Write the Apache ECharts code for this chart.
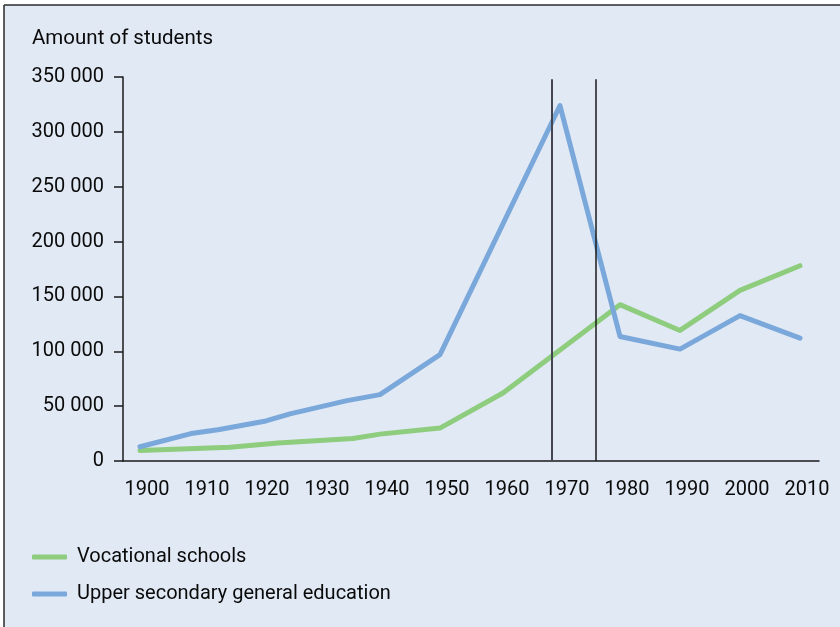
<!DOCTYPE html>
<html>
<head>
<meta charset="utf-8">
<script src="https://cdn.jsdelivr.net/npm/echarts@6/dist/echarts.min.js"></script>
<style>
html,body{margin:0;padding:0;background:#ffffff;}
#chart{width:840px;height:627px;}
</style>
</head>
<body>
<div id="chart"></div>
<script>
// Data
var yTickLabels = ['0', '50 000', '100 000', '150 000', '200 000', '250 000', '300 000', '350 000'];
var xTickYears = [1900, 1910, 1920, 1930, 1940, 1950, 1960, 1970, 1980, 1990, 2000, 2010];
var vocYears = [1900, 1915, 1923, 1935.5, 1940, 1950, 1960.5, 1980, 1990, 2000, 2010];
var vocValues = [9500, 12500, 16500, 20500, 24500, 30000, 62000, 142500, 119000, 155500, 178000];
var upperYears = [1900, 1908.5, 1913, 1921, 1925, 1934.5, 1940, 1950, 1970, 1980, 1990, 2000, 2010];
var upperValues = [13000, 25000, 28500, 36500, 43000, 55000, 60500, 97000, 324000, 113500, 102000, 132500, 112000];
var markerYears = [1968.6, 1976];
var seriesNames = ['Vocational schools', 'Upper secondary general education'];

function pairs(xs, ys) { return xs.map(function (x, i) { return [x, ys[i]]; }); }

var FONT = 'Roboto';
var TXT = '#0a0a0a';
var chart = echarts.init(document.getElementById('chart'), null, {renderer: 'canvas'});
var option = {
  backgroundColor: '#ffffff',
  animation: false,
  graphic: [
    {type: 'rect', z: -10, shape: {x: 4, y: 5, width: 840, height: 630}, style: {fill: '#e1e9f5'}},
    {type: 'line', z: 10, shape: {x1: 4, y1: 5, x2: 840, y2: 5}, style: {stroke: '#2a2a2a', lineWidth: 1.5}},
    {type: 'line', z: 10, shape: {x1: 4, y1: 5, x2: 4, y2: 627}, style: {stroke: '#2a2a2a', lineWidth: 1.5}},
    {type: 'text', z: 10, style: {x: 32, y: 39, text: 'Amount of students', fontFamily: FONT, fontSize: 20.5, fill: TXT, verticalAlign: 'middle'}}
  ],
  grid: {left: 123, right: 21, top: 77, bottom: 166, containLabel: false},
  xAxis: {
    type: 'value', min: 1897.17, max: 2013.17,
    splitLine: {show: false},
    axisLine: {show: true, onZero: false, lineStyle: {color: '#1a1a1a', width: 1.5}},
    axisTick: {show: false},
    axisLabel: {
      customValues: xTickYears, fontFamily: FONT, fontSize: 20, color: TXT, margin: 19,
      padding: [0, 0, 0, 14],
      formatter: function (v) { return String(Math.round(v)); }
    }
  },
  yAxis: {
    type: 'value', min: 0, max: 350000, interval: 50000,
    splitLine: {show: false},
    axisLine: {show: true, lineStyle: {color: '#1a1a1a', width: 1.5}},
    axisTick: {show: true, inside: false, length: 9, lineStyle: {color: '#1a1a1a', width: 1.5}},
    axisLabel: {
      fontFamily: FONT, fontSize: 20, color: TXT, margin: 19,
      formatter: function (v) { return yTickLabels[Math.round(v / 50000)]; }
    }
  },
  legend: {
    orient: 'vertical', left: 32, top: 545, padding: 0,
    itemWidth: 35, itemHeight: 5, itemGap: 13,
    icon: 'roundRect',
    textStyle: {fontFamily: FONT, fontSize: 20, color: TXT, lineHeight: 24, padding: [0, 0, 0, 5]},
    data: seriesNames
  },
  series: [
    {
      name: 'markers', type: 'line', data: [], z: 1, silent: true,
      markLine: {
        silent: true, symbol: ['none', 'none'], label: {show: false},
        emphasis: {disabled: true},
        data: [
          [{coord: [markerYears[0], 0], lineStyle: {color: '#44454f', width: 2, type: 'solid'}}, {coord: [markerYears[0], 348000]}],
          [{coord: [markerYears[1], 0], lineStyle: {color: '#1a1a1a', width: 1.5, type: 'solid'}}, {coord: [markerYears[1], 348000]}]
        ]
      }
    },
    {
      name: seriesNames[0], type: 'line', z: 3, showSymbol: false, symbol: 'none',
      color: '#8ecc7e',
      lineStyle: {width: 5, color: '#8ecc7e', join: 'round', cap: 'round'},
      data: pairs(vocYears, vocValues)
    },
    {
      name: seriesNames[1], type: 'line', z: 4, showSymbol: false, symbol: 'none',
      color: '#7ba8db',
      lineStyle: {width: 5, color: '#7ba8db', join: 'round', cap: 'round'},
      data: pairs(upperYears, upperValues)
    }
  ]
};
chart.setOption(option);
</script>
</body>
</html>
